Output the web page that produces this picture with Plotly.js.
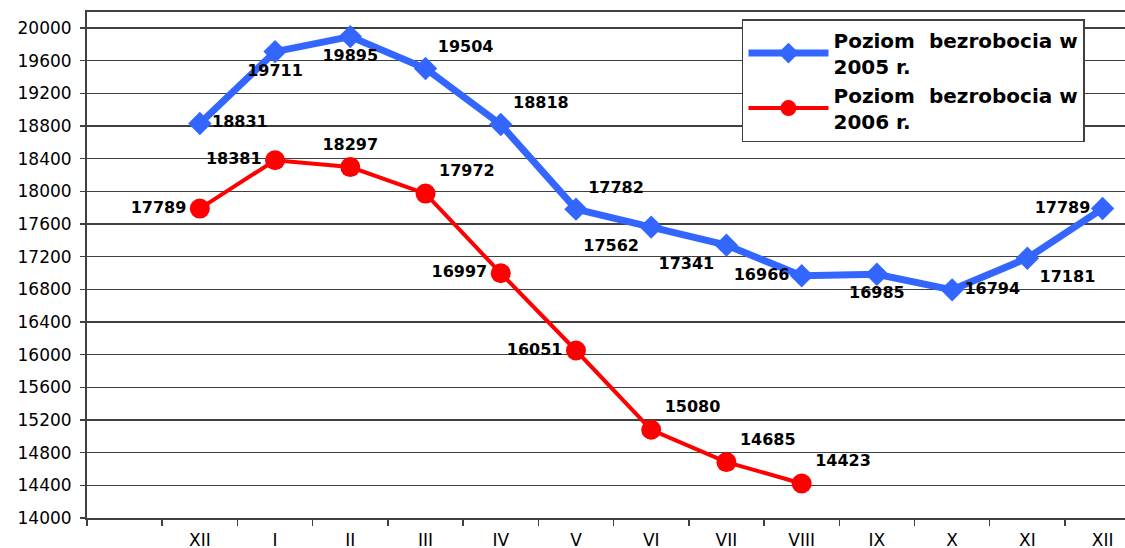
<!DOCTYPE html>
<html>
<head>
<meta charset="utf-8">
<script src="https://cdn.plot.ly/plotly-3.0.1.min.js"></script>
<style>
  html, body { margin: 0; padding: 0; background: #ffffff; }
  #chart { width: 1125px; height: 548px; }
</style>
</head>
<body>
<div id="chart"></div>
<script>
// Month labels (category 0 is an empty leading slot)
const months = ["XII", "I", "II", "III", "IV", "V", "VI", "VII", "VIII", "IX", "X", "XI", "XII"];
const series2005Name = "Poziom  bezrobocia w<br>2005 r.";
const series2006Name = "Poziom  bezrobocia w<br>2006 r.";
const values2005 = [18831, 19711, 19895, 19504, 18818, 17782, 17562, 17341, 16966, 16985, 16794, 17181, 17789];
const values2006 = [17789, 18381, 18297, 17972, 16997, 16051, 15080, 14685, 14423];
const labelPos2005 = ["middle right", "bottom center", "bottom center", "top right", "top right", "top right",
                      "bottom left", "bottom left", "middle left", "bottom center", "middle right", "bottom right", "middle left"];
const labelPos2006 = ["middle left", "middle left", "top center", "top right", "middle left", "middle left",
                      "top right", "top right", "top right"];

const xs2005 = values2005.map((_, i) => i + 1);
const xs2006 = values2006.map((_, i) => i + 1);

const labelFont = { family: "DejaVu Sans", size: 16, color: "#000000", weight: "bold" };

const trace2005 = {
  x: xs2005, y: values2005, name: series2005Name,
  type: "scatter", mode: "lines+markers+text",
  line: { color: "#3366ff", width: 7 },
  marker: { symbol: "diamond", size: 18, color: "#3366ff" },
  text: values2005.map(String), textposition: labelPos2005, textfont: labelFont,
  legendgroup: "a", cliponaxis: false, hoverinfo: "skip"
};
const trace2006 = {
  x: xs2006, y: values2006, name: series2006Name,
  type: "scatter", mode: "lines+markers+text",
  line: { color: "#ff0000", width: 4 },
  marker: { symbol: "circle", size: 20, color: "#ff0000" },
  text: values2006.map(String), textposition: labelPos2006, textfont: labelFont,
  legendgroup: "b", cliponaxis: false, hoverinfo: "skip"
};

const tickVals = months.map((_, i) => i + 1);

const layout = {
  width: 1125, height: 548,
  margin: { l: 87, r: 0, t: 12, b: 30 },
  paper_bgcolor: "#ffffff", plot_bgcolor: "#ffffff",
  showlegend: true,
  legend: {
    x: 0.631, y: 0.986, xanchor: "left", yanchor: "top",
    bgcolor: "#ffffff", bordercolor: "#404040", borderwidth: 1.5,
    font: { family: "DejaVu Sans", size: 20, color: "#000000", weight: "bold" },
    itemwidth: 80,
    tracegroupgap: 0
  },
  xaxis: {
    range: [-0.5, 13.298],
    tickmode: "array", tickvals: tickVals, ticktext: months,
    ticks: "", ticklen: 0,
    ticklabelstandoff: 6,
    minor: { tickmode: "linear", tick0: -0.5, dtick: 1, ticks: "outside", ticklen: 6, tickwidth: 1.5, tickcolor: "#404040", showgrid: false },
    tickfont: { family: "DejaVu Sans", size: 17, color: "#000000" },
    showgrid: false, zeroline: false,
    showline: true, linecolor: "#404040", linewidth: 2, mirror: true
  },
  yaxis: {
    range: [14000, 20196],
    tickmode: "linear", tick0: 14000, dtick: 400, tickformat: "d",
    ticks: "outside", ticklen: 5, tickwidth: 1.5, tickcolor: "#404040",
    ticklabelstandoff: 5,
    tickfont: { family: "DejaVu Sans", size: 17, color: "#000000" },
    showgrid: true, gridcolor: "#404040", gridwidth: 1.3,
    zeroline: false,
    showline: true, linecolor: "#404040", linewidth: 2, mirror: true
  }
};

Plotly.newPlot("chart", [trace2005, trace2006], layout, { displayModeBar: false, staticPlot: true });
</script>
</body>
</html>
